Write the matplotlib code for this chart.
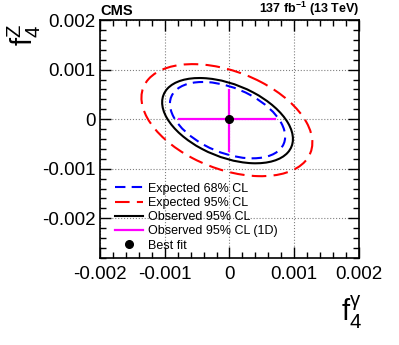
import numpy as np
import matplotlib.pyplot as plt
from matplotlib.patches import Ellipse
from matplotlib.lines import Line2D
from matplotlib.ticker import MultipleLocator

plt.rcParams["font.family"] = ["Liberation Sans", "DejaVu Sans"]
plt.rcParams["mathtext.fontset"] = "custom"
plt.rcParams["mathtext.rm"] = "Liberation Sans"
plt.rcParams["mathtext.it"] = "Liberation Sans:italic"

# contours: center, sigma_x, sigma_y, correlation
contour_names = ["Expected 68% CL", "Expected 95% CL", "Observed 95% CL"]
contour_cx = [-0.00003, -0.00004, -0.00003]
contour_cy = [-0.00002, -0.00002, -0.00003]
contour_sx = [0.00089, 0.00132, 0.00101]
contour_sy = [0.00077, 0.00113, 0.00086]
contour_rho = [-0.43, -0.40, -0.43]
contour_colors = ["blue", "red", "black"]
contour_styles = [(0, (5, 3)), (0, (7, 3.5)), "-"]

# 1D observed intervals
obs1d_x = [-0.00078, 0.00070]
obs1d_y = [-0.00065, 0.00059]

best_fit = (0.0, 0.0)

fig = plt.figure(figsize=(3.99, 3.45), dpi=100)
ax = fig.add_axes([0.2506, 0.2522, 0.6491, 0.6898])

handles = []
for i in range(len(contour_names)):
    cov = np.array([[contour_sx[i]**2, contour_rho[i]*contour_sx[i]*contour_sy[i]],
                    [contour_rho[i]*contour_sx[i]*contour_sy[i], contour_sy[i]**2]])
    vals, vecs = np.linalg.eigh(cov)
    ang = np.degrees(np.arctan2(vecs[1, 1], vecs[0, 1]))
    e = Ellipse((contour_cx[i], contour_cy[i]), 2*np.sqrt(vals[1]), 2*np.sqrt(vals[0]),
                angle=ang, fill=False, edgecolor=contour_colors[i],
                linestyle=contour_styles[i], linewidth=1.5, zorder=3)
    ax.add_patch(e)
    handles.append(Line2D([], [], color=contour_colors[i], ls=contour_styles[i],
                          lw=1.5, label=contour_names[i]))

ax.plot(obs1d_x, [best_fit[1]]*2, color="magenta", lw=1.6, zorder=4)
ax.plot([best_fit[0]]*2, obs1d_y, color="magenta", lw=1.6, zorder=4)
ax.plot(*best_fit, "o", color="black", ms=5.5, zorder=5)
handles.append(Line2D([], [], color="magenta", lw=1.6, label="Observed 95% CL (1D)"))
handles.append(Line2D([], [], color="black", marker="o", ms=5.5, ls="none", label="Best fit"))

ax.set_xlim(-0.002, 0.002)
ax.set_ylim(-0.0028, 0.002)
ax.xaxis.set_minor_locator(MultipleLocator(0.0002))
ax.yaxis.set_minor_locator(MultipleLocator(0.0002))
ax.set_xticks([-0.002, -0.001, 0, 0.001, 0.002])
ax.set_xticklabels(["-0.002", "-0.001", "0", "0.001", "0.002"])
ax.set_yticks([-0.002, -0.001, 0, 0.001, 0.002])
ax.set_yticklabels(["-0.002", "-0.001", "0", "0.001", "0.002"])
ax.tick_params(which="both", direction="in", top=True, right=True, labelsize=13.5, width=1)
ax.tick_params(which="major", length=8)
ax.tick_params(axis="x", which="major", pad=6)
ax.tick_params(axis="y", which="major", pad=3)
ax.tick_params(which="minor", length=4)
ax.grid(True, which="major", color="gray", linestyle=":", linewidth=0.8)
for s in ax.spines.values():
    s.set_linewidth(1.2)

fig.text(0.882, 0.095, r"$\mathregular{f_{4}^{\gamma}}$", fontsize=21, ha="center", va="center")
fig.text(0.062, 0.9, r"$\mathregular{f_{4}^{Z}}$", fontsize=21, rotation=90, ha="center", va="center")

ax.text(0.0, 1.01, "CMS", transform=ax.transAxes, fontsize=10.5, fontweight="bold",
        ha="left", va="bottom")
ax.text(1.0, 1.01, r"137 fb$^{\mathregular{-1}}$ (13 TeV)", transform=ax.transAxes, fontsize=9,
        fontweight="bold", ha="right", va="bottom")

ax.legend(handles=handles, loc="lower left", bbox_to_anchor=(0.029, -0.005), frameon=False,
          fontsize=9, handlelength=2.2, handletextpad=0.4, labelspacing=0.18,
          borderpad=0.3, borderaxespad=0.3)

fig.savefig("out.png", dpi=100)
